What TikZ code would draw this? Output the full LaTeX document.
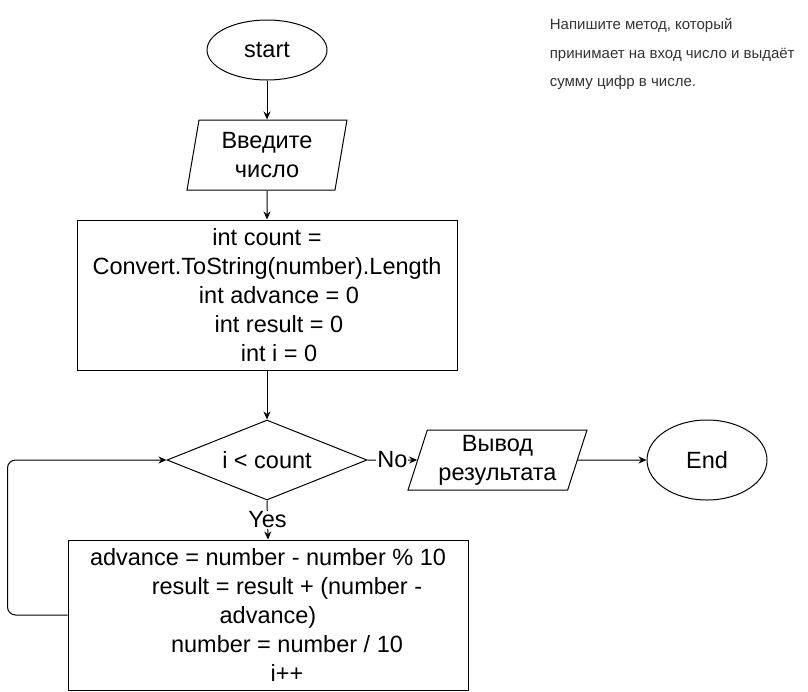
\documentclass[tikz,border=0pt]{standalone}
\usepackage{fontspec}
\setmainfont{Liberation Sans}
\usetikzlibrary{arrows.meta, positioning, shapes.geometric}
\definecolor{fcline}{HTML}{000000}
\definecolor{fcnote}{HTML}{333333}

\begin{document}
\begin{tikzpicture}[
  x=1pt, y=-1pt,
  line width=1pt,
  every node/.style={font=\fontsize{23.5}{29}\selectfont},
  termbox/.style={ellipse, draw=fcline, fill=white, minimum width=120, minimum height=#1, inner sep=0pt},
  iobox/.style={trapezium, trapezium stretches=true, trapezium left angle=#1, trapezium right angle=180-#1, draw=fcline, fill=white, align=center, inner sep=0pt},
  procbox/.style={rectangle, draw=fcline, fill=white, align=center, inner sep=0pt},
  condbox/.style={diamond, shape aspect=2.5, draw=fcline, fill=white, minimum width=200, minimum height=80, inner sep=0pt},
  flow/.style={-{Stealth[length=8pt,width=7pt]}, fcline},
  edgelabel/.style={fill=white, inner sep=1pt},
]
\useasboundingbox (0,0) rectangle (808,691);

% Main column
\node[termbox=60] (start) at (267,50) {start};
\node[iobox=80, minimum width=160, minimum height=70] (input) at (267,155) {Введите\\число};
\node[procbox, minimum width=380, minimum height=150] (init) at (267,295)
  {int count =\\Convert.ToString(number).Length\\
   \hspace*{24pt}int advance = 0\\
   \hspace*{24pt}int result = 0\\
   \hspace*{24pt}int i = 0};
\node[condbox] (cond) at (267,460) {i < count};
\node[procbox, minimum width=400, minimum height=150] (body) at (268,615)
  {advance = number - number \% 10\\
   \hspace*{38pt}result = result + (number -\\
   advance)\\
   \hspace*{38pt}number = number / 10\\
   \hspace*{38pt}i++};

% Output branch
\node[iobox=72, minimum width=179, minimum height=60] (output) at (497.5,460) {Вывод\\результата};
\node[termbox=80] (finish) at (707,460) {End};

% Note
\node[font=\fontsize{15}{28.5}\selectfont, text=fcnote, align=left, anchor=west] (note) at (546,54)
  {Напишите метод, который\\принимает на вход число и выдаёт\\сумму цифр в числе.};

% Connectors
\draw[flow] (start) -- (input);
\draw[flow] (input) -- (init);
\draw[flow] (init) -- (cond);
\draw[flow] (cond.east) -- node[edgelabel] {No} (output);
\draw[flow] (output) -- (finish);
\draw[flow] (cond.south) -- node[edgelabel] {Yes} (body.north);
\draw[flow, rounded corners=8pt] (body.west) -- ++(-60,0) |- (cond.west);

\end{tikzpicture}
\end{document}
